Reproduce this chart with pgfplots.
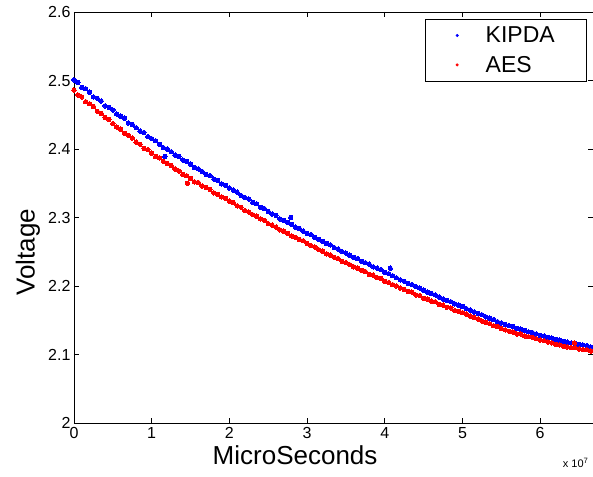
\documentclass[border=0pt]{standalone}
\usepackage{pgfplots}
\pgfplotsset{compat=1.18}
\usepackage{pgfplotstable}
\usepackage{fontspec}
\setmainfont{Liberation Sans}

\pgfplotstableread{
x y
0.00 2.501
0.05 2.497
0.10 2.490
0.15 2.488
0.20 2.483
0.25 2.476
0.30 2.474
0.35 2.470
0.40 2.463
0.45 2.461
0.50 2.457
0.55 2.451
0.60 2.448
0.65 2.445
0.70 2.438
0.75 2.436
0.80 2.431
0.85 2.426
0.90 2.424
0.95 2.418
1.00 2.415
1.05 2.412
1.10 2.407
1.15 2.402
1.17 2.389
1.20 2.400
1.25 2.396
1.30 2.391
1.35 2.389
1.40 2.384
1.45 2.382
1.50 2.378
1.55 2.373
1.60 2.371
1.65 2.367
1.70 2.363
1.75 2.361
1.80 2.356
1.85 2.354
1.90 2.349
1.95 2.347
2.00 2.343
2.05 2.340
2.10 2.337
2.15 2.332
2.20 2.329
2.25 2.327
2.30 2.322
2.35 2.320
2.40 2.315
2.45 2.313
2.50 2.309
2.55 2.305
2.60 2.303
2.65 2.298
2.70 2.296
2.75 2.293
2.79 2.300
2.80 2.290
2.85 2.286
2.90 2.284
2.95 2.280
3.00 2.277
3.05 2.275
3.10 2.271
3.15 2.268
3.20 2.265
3.25 2.262
3.30 2.260
3.35 2.256
3.40 2.254
3.45 2.250
3.50 2.248
3.55 2.245
3.60 2.242
3.65 2.240
3.70 2.236
3.75 2.234
3.80 2.232
3.85 2.228
3.90 2.226
3.95 2.224
4.00 2.220
4.05 2.218
4.07 2.226
4.10 2.215
4.15 2.212
4.20 2.209
4.25 2.207
4.30 2.204
4.35 2.202
4.40 2.199
4.45 2.197
4.50 2.194
4.55 2.191
4.60 2.189
4.65 2.187
4.70 2.184
4.75 2.181
4.80 2.179
4.85 2.177
4.90 2.174
4.95 2.172
5.00 2.170
5.05 2.167
5.10 2.165
5.15 2.162
5.20 2.160
5.25 2.158
5.30 2.155
5.35 2.153
5.40 2.151
5.45 2.148
5.50 2.146
5.55 2.144
5.60 2.142
5.65 2.141
5.70 2.138
5.75 2.137
5.80 2.135
5.85 2.133
5.90 2.132
5.95 2.130
6.00 2.128
6.05 2.127
6.10 2.125
6.15 2.124
6.20 2.122
6.25 2.121
6.30 2.119
6.35 2.118
6.40 2.117
6.45 2.116
6.50 2.115
6.55 2.114
6.60 2.113
6.65 2.111
6.70 2.110
}\kipda

\pgfplotstableread{
x y
0.00 2.486
0.05 2.479
0.10 2.476
0.15 2.469
0.20 2.466
0.25 2.462
0.30 2.455
0.35 2.452
0.40 2.446
0.45 2.443
0.50 2.437
0.55 2.432
0.60 2.429
0.65 2.423
0.70 2.420
0.75 2.416
0.80 2.410
0.85 2.407
0.90 2.401
0.95 2.399
1.00 2.394
1.05 2.389
1.10 2.387
1.15 2.382
1.20 2.379
1.25 2.376
1.30 2.371
1.35 2.368
1.40 2.363
1.45 2.361
1.46 2.350
1.50 2.357
1.55 2.352
1.60 2.351
1.65 2.346
1.70 2.344
1.75 2.341
1.80 2.336
1.85 2.334
1.90 2.330
1.95 2.328
2.00 2.324
2.05 2.322
2.10 2.317
2.15 2.315
2.20 2.310
2.25 2.308
2.30 2.304
2.35 2.302
2.40 2.298
2.45 2.296
2.50 2.291
2.55 2.289
2.60 2.286
2.65 2.282
2.70 2.280
2.75 2.277
2.80 2.273
2.85 2.271
2.90 2.268
2.95 2.266
3.00 2.262
3.05 2.259
3.10 2.257
3.15 2.253
3.20 2.251
3.25 2.247
3.30 2.245
3.35 2.242
3.40 2.240
3.45 2.236
3.50 2.234
3.55 2.231
3.60 2.228
3.65 2.226
3.70 2.223
3.75 2.221
3.80 2.217
3.85 2.216
3.90 2.212
3.95 2.211
4.00 2.207
4.05 2.205
4.10 2.202
4.15 2.200
4.20 2.197
4.25 2.195
4.30 2.192
4.35 2.191
4.40 2.187
4.45 2.186
4.50 2.182
4.55 2.181
4.60 2.178
4.65 2.177
4.70 2.173
4.75 2.172
4.80 2.169
4.85 2.168
4.90 2.164
4.95 2.163
5.00 2.161
5.05 2.159
5.10 2.156
5.15 2.154
5.20 2.152
5.25 2.149
5.30 2.147
5.35 2.145
5.40 2.142
5.45 2.141
5.50 2.138
5.55 2.136
5.60 2.134
5.65 2.133
5.70 2.130
5.75 2.130
5.80 2.127
5.85 2.126
5.90 2.125
5.95 2.123
6.00 2.121
6.05 2.120
6.10 2.118
6.15 2.117
6.20 2.115
6.25 2.114
6.30 2.112
6.35 2.111
6.40 2.110
6.44 2.117
6.45 2.110
6.50 2.108
6.55 2.107
6.60 2.107
6.65 2.105
6.70 2.104
}\aes

\begin{document}
\begin{tikzpicture}
\begin{axis}[name=ax,
  width=519pt, height=411pt, scale only axis,
  xmin=0, xmax=6.68, ymin=2, ymax=2.6,
  xtick={0,1,2,3,4,5,6},
  xticklabels={0,1,2,3,4,5,6},
  ytick={2,2.1,2.2,2.3,2.4,2.5,2.6},
  yticklabels={2,2.1,2.2,2.3,2.4,2.5,2.6},
  tick align=inside, major tick length=5pt,
  tick style={black, line width=0.6pt},
  axis line style={black, line width=0.7pt},
  ticklabel style={font=\fontsize{16}{16}\selectfont},
  xticklabel style={yshift=-1pt},
  every axis x label/.style={at={(rel axis cs:0.426,0)}, anchor=center, yshift=-32pt},
  every axis y label/.style={at={(rel axis cs:0,0.416)}, anchor=center, rotate=90, yshift=46pt},
  label style={font=\fontsize{26}{26}\selectfont},
  xlabel={MicroSeconds}, ylabel={Voltage},
  legend style={at={(rel axis cs:1,1)}, anchor=north east, xshift=-6pt, yshift=-7pt,
    draw=black, line width=0.6pt, font=\fontsize{23}{24}\selectfont,
    inner xsep=30pt, inner ysep=5.5pt, row sep=8pt, legend cell align=left},
  legend image code/.code={\fill (0.3cm,0cm) circle (1.2pt);},
]
\addplot[blue, only marks, mark=*, mark size=2.2pt, mark options={draw=blue, fill=blue, line width=0pt}] table[x=x,y=y] {\kipda};
\addlegendentry{\hspace{25pt}KIPDA}
\addplot[red, only marks, mark=*, mark size=2.2pt, mark options={draw=red, fill=red, line width=0pt}] table[x=x,y=y] {\aes};
\addlegendentry{\hspace{25pt}AES}
\end{axis}
\node[anchor=east, font=\fontsize{11}{12}\selectfont] at ([xshift=-1pt,yshift=-40pt]ax.south east) {x 10\textsuperscript{7}};
\pgfresetboundingbox
\path ([xshift=-74pt,yshift=-54pt]ax.south west) rectangle ([yshift=12pt]ax.north east);
\end{tikzpicture}
\end{document}
